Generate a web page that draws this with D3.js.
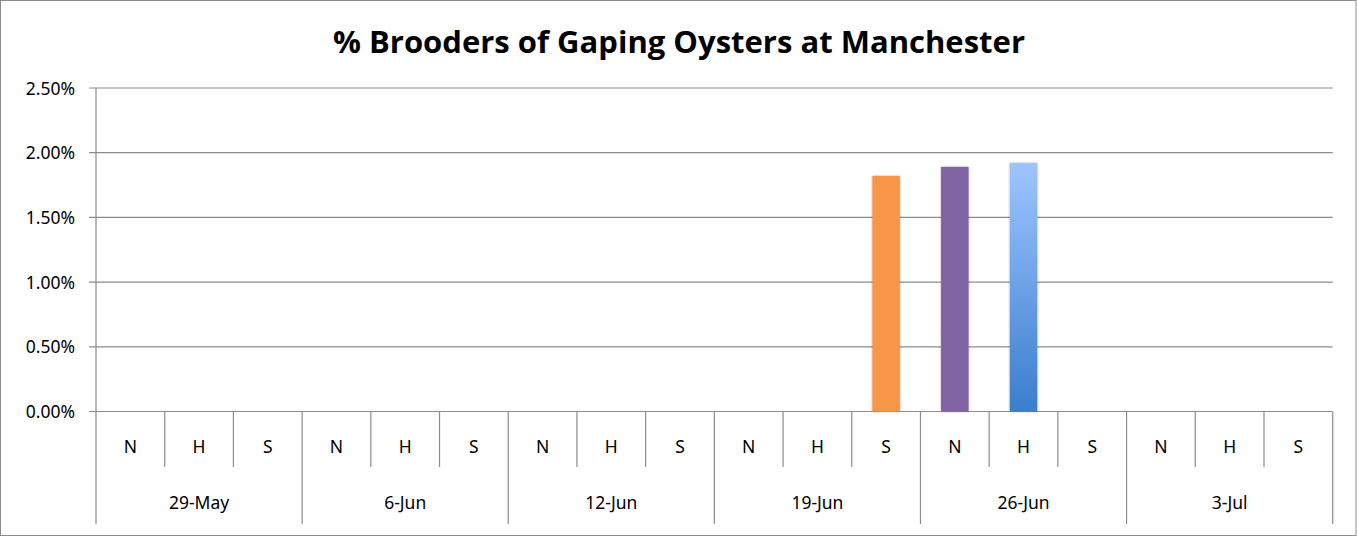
<!DOCTYPE html>
<html><head><meta charset="utf-8">
<script src="https://cdn.jsdelivr.net/npm/d3@7"></script>
<style>body{margin:0;background:#fff}svg{display:block}</style>
</head><body>
<svg id="c" width="1357" height="537"></svg>
<script>
const dates = ["29-May","6-Jun","12-Jun","19-Jun","26-Jun","3-Jul"];
const sites = ["N","H","S"];
// % brooders, one entry per date × site (as fraction)
const values = [
  0,0,0,
  0,0,0,
  0,0,0,
  0,0,0.0182,
  0.0189,0.0192,0,
  0,0,0
];
const yTicks = [0,0.005,0.01,0.015,0.02,0.025];
const title = "% Brooders of Gaping Oysters at Manchester";

const barColors = {"19-Jun|S":"#F79646","26-Jun|N":"#8064A2","26-Jun|H":"url(#blueGrad)"};

const svg = d3.select("#c");
const W=1357,H=537;
const L=96,R=1332.7,T=88,B=411.5;
const FONT="'Noto Sans',sans-serif";
const FS=17.5;

const defs = svg.append("defs");
const g1 = defs.append("linearGradient").attr("id","blueGrad").attr("x1",0).attr("y1",0).attr("x2",0).attr("y2",1);
g1.append("stop").attr("offset","0%").attr("stop-color","#9EC4FF");
g1.append("stop").attr("offset","100%").attr("stop-color","#3A7ECD");
const f = defs.append("filter").attr("id","sh").attr("x","-20%").attr("y","-5%").attr("width","140%").attr("height","110%");
f.append("feGaussianBlur").attr("in","SourceAlpha").attr("stdDeviation",1.2).attr("result","b");
f.append("feOffset").attr("in","b").attr("dx",0).attr("dy",0).attr("result","o");
f.append("feComponentTransfer").attr("in","o").attr("result","o2").append("feFuncA").attr("type","linear").attr("slope",0.35);
const fm=f.append("feMerge"); fm.append("feMergeNode").attr("in","o2"); fm.append("feMergeNode").attr("in","SourceGraphic");

svg.append("rect").attr("x",0.5).attr("y",0.5).attr("width",W-1.5).attr("height",H-2).attr("fill","#fff").attr("stroke","#8c8c8c").attr("stroke-width",1);

svg.append("text").attr("x",679).attr("y",53).attr("text-anchor","middle")
  .attr("font-family","'Open Sans',sans-serif").attr("font-weight","bold").attr("font-size",31)
  .attr("textLength",692).attr("lengthAdjust","spacingAndGlyphs")
  .text(title);

const y = d3.scaleLinear().domain([0,0.025]).range([B,T]);
const keys = [];
dates.forEach(d=>sites.forEach(s=>keys.push(d+"|"+s)));
const x = d3.scaleBand().domain(keys).range([L,R]).paddingInner(0.6).paddingOuter(0.3);
const xOuter = d3.scaleBand().domain(keys).range([L,R]);
const xDate = d3.scaleBand().domain(dates).range([L,R]);

// gridlines
svg.append("g").selectAll("line").data(yTicks).join("line")
  .attr("x1",L-7).attr("x2",R).attr("y1",d=>y(d)).attr("y2",d=>y(d))
  .attr("stroke","#8c8c8c").attr("stroke-width",1.2);

// y axis
const yAxis = d3.axisLeft(y).tickValues(yTicks).tickFormat(d3.format(".2%")).tickSize(0).tickPadding(21);
const ya = svg.append("g").attr("transform",`translate(${L},0)`).call(yAxis);
ya.select(".domain").remove();
ya.selectAll("text").attr("font-family",FONT).attr("font-size",FS).attr("fill","#000").attr("dy","0.35em");
svg.append("line").attr("x1",L).attr("x2",L).attr("y1",T).attr("y2",B).attr("stroke","#8c8c8c").attr("stroke-width",1.2);

// bars
svg.append("g").selectAll("rect").data(values.map((v,i)=>({k:keys[i],v}))).join("rect")
  .filter(d=>d.v>0)
  .attr("x",d=>x(d.k)).attr("width",x.bandwidth())
  .attr("y",d=>y(d.v)).attr("height",d=>B-y(d.v))
  .attr("fill",d=>barColors[d.k]||"#4F81BD").attr("filter","url(#sh)");

// x axis: inner dividers
const gx = svg.append("g");
keys.forEach((k,i)=>{
  const x0 = xOuter(k);
  const isDateStart = i%3===0;
  gx.append("line").attr("x1",x0).attr("x2",x0).attr("y1",B).attr("y2",isDateStart?524:467)
    .attr("stroke","#8c8c8c").attr("stroke-width",1.2);
});
gx.append("line").attr("x1",R).attr("x2",R).attr("y1",B).attr("y2",524).attr("stroke","#8c8c8c").attr("stroke-width",1.2);
gx.selectAll("text.site").data(keys).join("text").attr("class","site")
  .attr("x",k=>xOuter(k)+xOuter.bandwidth()/2).attr("y",447).attr("dy","0.35em")
  .attr("text-anchor","middle").attr("font-family",FONT).attr("font-size",FS)
  .text(k=>k.split("|")[1]);
gx.selectAll("text.date").data(dates).join("text").attr("class","date")
  .attr("x",d=>xDate(d)+xDate.bandwidth()/2).attr("y",503).attr("dy","0.35em")
  .attr("text-anchor","middle").attr("font-family",FONT).attr("font-size",FS)
  .text(d=>d);
</script>
</body></html>
